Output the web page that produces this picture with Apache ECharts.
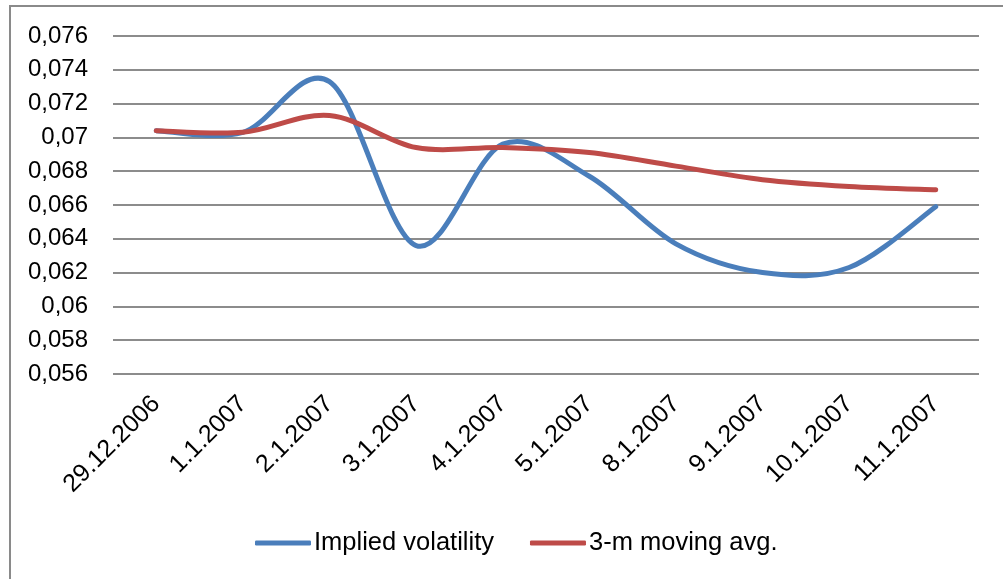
<!DOCTYPE html>
<html>
<head>
<meta charset="utf-8">
<script src="https://cdn.jsdelivr.net/npm/echarts@6/dist/echarts.min.js"></script>
<style>
  html, body { margin: 0; padding: 0; background: #ffffff; }
  #chart { width: 1003px; height: 579px; }
</style>
</head>
<body>
<div id="chart"></div>
<script>
// Trading dates (category axis)
const dates = ['29.12.2006', '1.1.2007', '2.1.2007', '3.1.2007', '4.1.2007',
               '5.1.2007', '8.1.2007', '9.1.2007', '10.1.2007', '11.1.2007'];

// Implied volatility per date
const impliedVol = [0.0704, 0.0703, 0.0733, 0.0636, 0.0696,
                    0.0677, 0.0637, 0.0620, 0.0623, 0.0659];

// 3-month moving average per date
const movingAvg = [0.0704, 0.0703, 0.0713, 0.0694, 0.0694,
                   0.0691, 0.0683, 0.0675, 0.0671, 0.0669];

// Value axis range and step
const yMin = 0.056;
const yMax = 0.076;
const yStep = 0.002;

const seriesNames = ['Implied volatility', '3-m moving avg.'];
const BLUE = '#4A7EBB';
const RED = '#BE4B48';
const FONT = 'Liberation Sans';

// Smooth curve through every data point (uniform Catmull-Rom as cubic Beziers).
// Points come from the grid's own coordinate conversion.
function smoothCurve(values, color) {
  return function (params, api) {
    if (params.dataIndex !== 0) return null;
    const pts = values.map((v, i) => api.coord([i, v]));
    let d = 'M' + pts[0][0] + ' ' + pts[0][1];
    for (let i = 0; i < pts.length - 1; i++) {
      const p0 = pts[Math.max(i - 1, 0)];
      const p1 = pts[i];
      const p2 = pts[i + 1];
      const p3 = pts[Math.min(i + 2, pts.length - 1)];
      const c1x = p1[0] + (p2[0] - p0[0]) / 6;
      const c1y = p1[1] + (p2[1] - p0[1]) / 6;
      const c2x = p2[0] - (p3[0] - p1[0]) / 6;
      const c2y = p2[1] - (p3[1] - p1[1]) / 6;
      d += ' C' + c1x + ' ' + c1y + ' ' + c2x + ' ' + c2y + ' ' + p2[0] + ' ' + p2[1];
    }
    return {
      type: 'path',
      shape: { pathData: d },
      style: { fill: 'none', stroke: color, lineWidth: 5, lineCap: 'round', lineJoin: 'round' },
      silent: true
    };
  };
}

function curveSeries(name, values, color) {
  return {
    name: name,
    type: 'custom',
    coordinateSystem: 'cartesian2d',
    data: values.map((v, i) => [i, v]),
    encode: { x: 0, y: 1 },
    itemStyle: { color: color },
    clip: false,
    renderItem: smoothCurve(values, color)
  };
}

const chart = echarts.init(document.getElementById('chart'), null, { renderer: 'canvas' });

chart.setOption({
  backgroundColor: '#ffffff',
  animation: false,
  grid: { left: 113, right: 24, top: 36, bottom: 205, containLabel: false },
  graphic: [{
    type: 'rect',
    shape: { x: 10, y: 6, width: 1010, height: 600 },
    style: { fill: 'none', stroke: '#8a8a8a', lineWidth: 2 },
    silent: true
  }],
  legend: {
    data: seriesNames.map((n, i) => ({ name: n, itemStyle: { color: i === 0 ? BLUE : RED } })),
    bottom: 18,
    left: 250,
    itemWidth: 56,
    itemHeight: 5,
    itemGap: 36,
    icon: 'roundRect',
    textStyle: { fontFamily: FONT, fontSize: 25.5, color: '#000000', padding: [0, 0, 0, -2] }
  },
  xAxis: {
    type: 'category',
    data: dates,
    boundaryGap: true,
    axisLine: { show: false },
    axisTick: { show: false },
    axisLabel: {
      rotate: 45,
      margin: 26,
      interval: 0,
      fontFamily: FONT,
      fontSize: 25,
      color: '#000000'
    }
  },
  yAxis: {
    type: 'value',
    min: yMin,
    max: yMax,
    interval: yStep,
    axisLine: { show: false },
    axisTick: { show: false },
    splitLine: { lineStyle: { color: '#8c8c8c', width: 2 } },
    axisLabel: {
      margin: 25,
      fontFamily: FONT,
      fontSize: 24,
      color: '#000000',
      formatter: v => String(parseFloat(v.toFixed(3))).replace('.', ',')
    }
  },
  series: [
    curveSeries(seriesNames[0], impliedVol, BLUE),
    curveSeries(seriesNames[1], movingAvg, RED)
  ]
});
</script>
</body>
</html>
